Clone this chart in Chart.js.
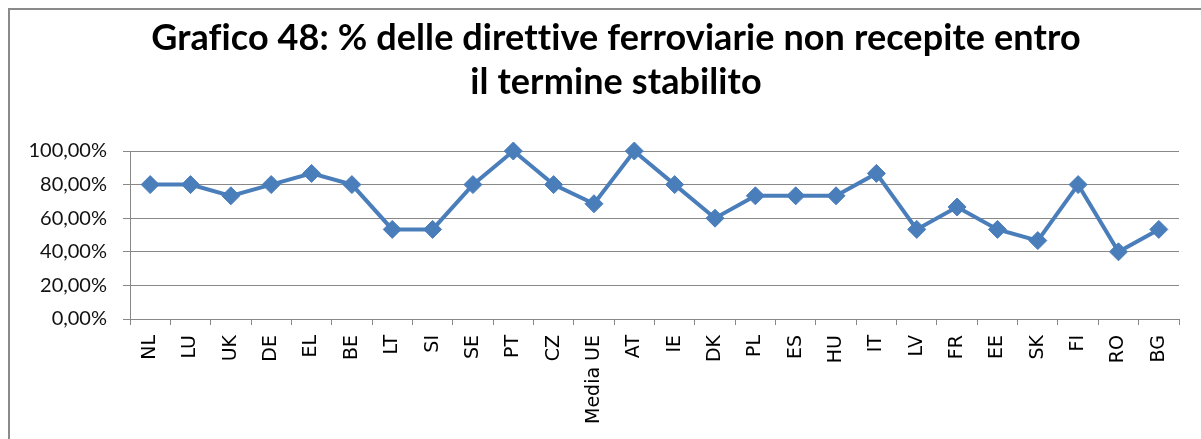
<!DOCTYPE html>
<html>
<head>
<meta charset="utf-8">
<script src="https://cdn.jsdelivr.net/npm/chart.js@4.4.1/dist/chart.umd.min.js"></script>
<style>
  html, body { margin: 0; padding: 0; background: #fff; }
  #wrap { position: relative; width: 1201px; height: 439px; }
  #frame { position: absolute; left: 8px; top: 8px; right: -10px; bottom: -10px;
           border-left: 2px solid #8a8a8a; border-top: 2px solid #8a8a8a; pointer-events: none; }
</style>
</head>
<body>
<div id="wrap">
  <canvas id="chart" width="1201" height="439"></canvas>
  <div id="frame"></div>
</div>
<script>
// Dati
const titleLines = ['Grafico 48: % delle direttive ferroviarie non recepite entro', 'il termine stabilito'];
const paesi = ['NL', 'LU', 'UK', 'DE', 'EL', 'BE', 'LT', 'SI', 'SE', 'PT', 'CZ', 'Media UE', 'AT',
  'IE', 'DK', 'PL', 'ES', 'HU', 'IT', 'LV', 'FR', 'EE', 'SK', 'FI', 'RO', 'BG'];
const percentuali = [80, 80, 73.33, 80, 86.67, 80, 53.33, 53.33, 80, 100, 80, 68.6, 100,
  80, 60, 73.33, 73.33, 73.33, 86.67, 53.33, 66.67, 53.33, 46.67, 80, 40, 53.33];
const yTicks = [0, 20, 40, 60, 80, 100];

const blu = '#4a7ebb';
const grigio = '#888888';

// Titolo disegnato a mano per centrarlo come nell'originale
const titlePlugin = {
  id: 'titoloDueRighe',
  afterDraw(chart) {
    const ctx = chart.ctx;
    ctx.save();
    ctx.font = 'bold 36px Lato';
    ctx.letterSpacing = '0.1px'; // niente legature (fi, tti)
    ctx.fillStyle = '#000';
    ctx.textAlign = 'center';
    ctx.textBaseline = 'alphabetic';
    ctx.fillText(titleLines[0], 616, 50);
    ctx.fillText(titleLines[1], 616, 94);
    ctx.restore();
  }
};

const ctx = document.getElementById('chart').getContext('2d');
const chart = new Chart(ctx, {
  type: 'line',
  data: {
    labels: paesi,
    datasets: [{
      data: percentuali,
      borderColor: blu,
      backgroundColor: blu,
      borderWidth: 4,
      pointStyle: 'rectRot',
      pointRadius: 9,
      pointHoverRadius: 9,
      pointBackgroundColor: blu,
      pointBorderColor: blu,
      pointBorderWidth: 1,
      tension: 0,
      fill: false,
      clip: false
    }]
  },
  options: {
    responsive: false,
    animation: false,
    devicePixelRatio: 1,
    layout: { padding: { left: 0, right: 22, top: 151, bottom: 0 } },
    plugins: {
      legend: { display: false },
      title: { display: false },
      tooltip: { enabled: false }
    },
    scales: {
      x: {
        offset: true,
        grid: { display: true, drawOnChartArea: false, drawTicks: true, tickLength: 6, color: grigio, offset: true },
        border: { color: grigio, width: 1 },
        ticks: {
          minRotation: 90, maxRotation: 90, autoSkip: false,
          color: '#000', padding: 10,
          font: { family: 'DejaVu Sans', size: 19 }
        },
        afterFit(scale) { scale.height = 120; }
      },
      y: {
        min: 0, max: 100,
        afterBuildTicks(scale) { scale.ticks = yTicks.map(v => ({ value: v })); },
        grid: { color: grigio, tickLength: 7, drawTicks: true },
        border: { color: grigio, width: 1 },
        ticks: {
          color: '#111', padding: 16,
          font: { family: 'Lato', size: 20 },
          callback: v => v.toFixed(2).replace('.', ',') + '%'
        },
        afterFit(scale) { scale.width = 130; }
      }
    }
  },
  plugins: [titlePlugin]
});
</script>
</body>
</html>
